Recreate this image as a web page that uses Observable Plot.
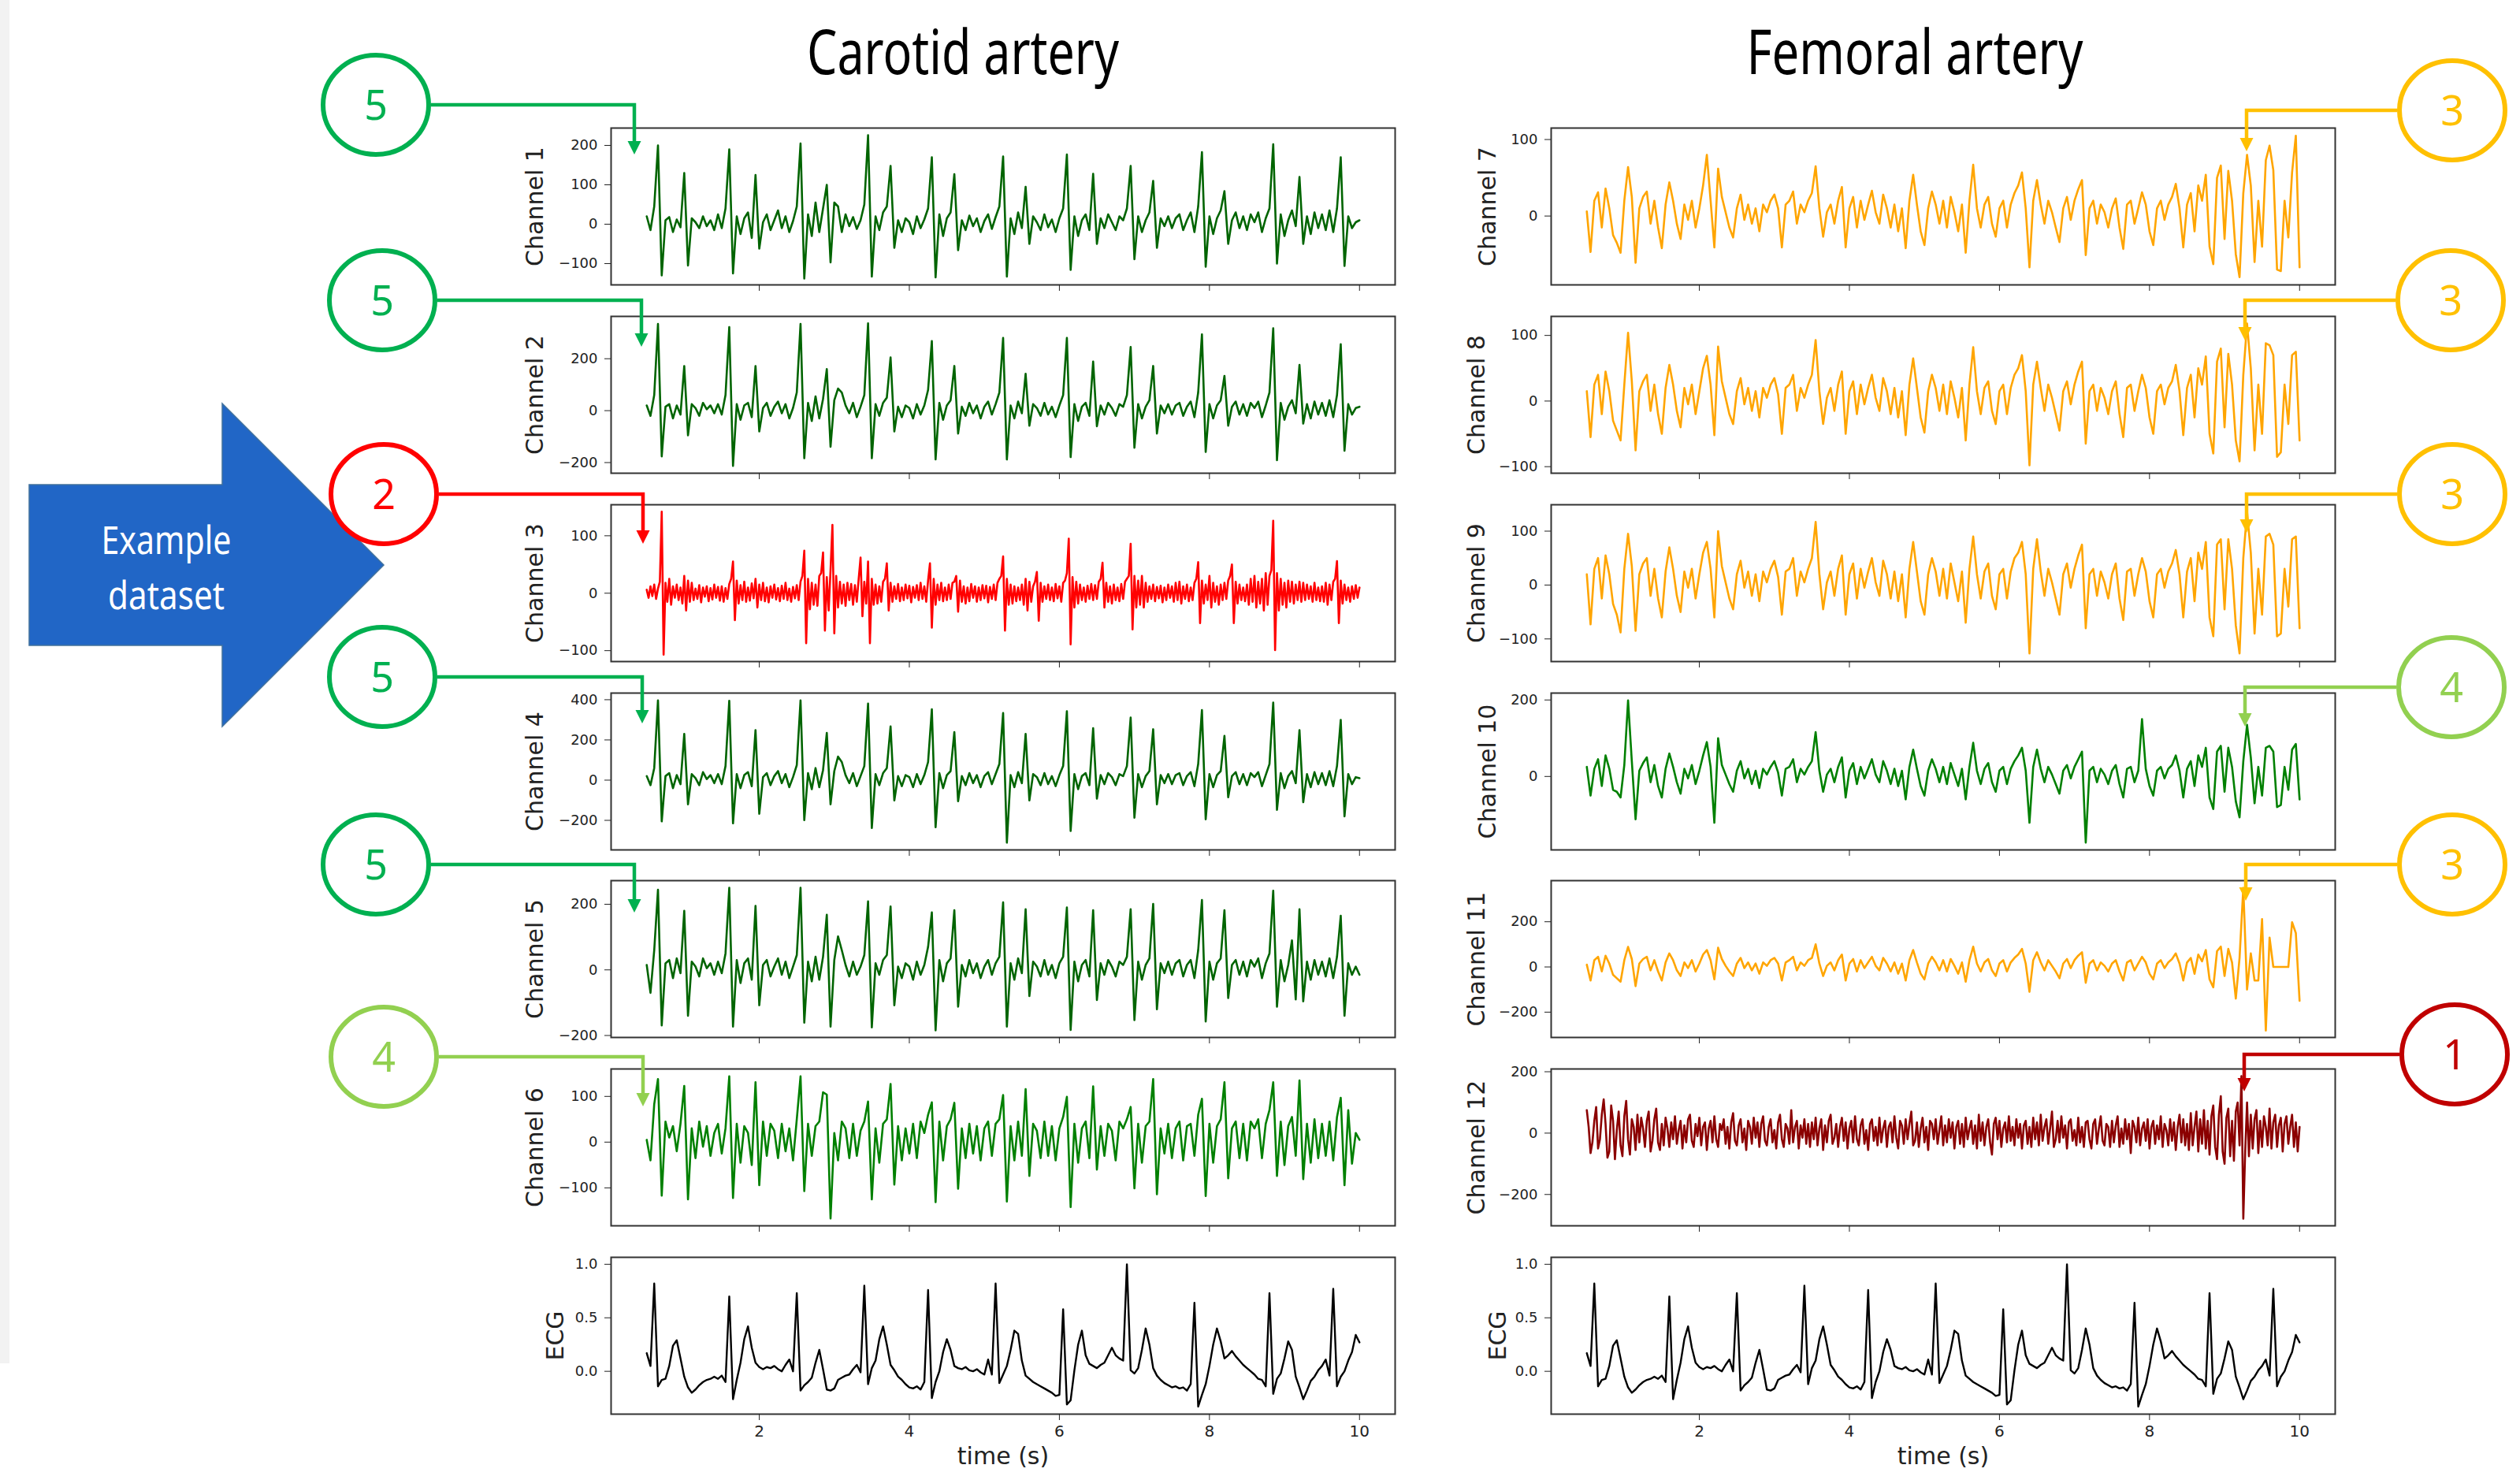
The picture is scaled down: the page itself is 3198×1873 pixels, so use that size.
<!DOCTYPE html>
<html>
<head>
<meta charset="utf-8">
<script src="https://cdn.jsdelivr.net/npm/d3@7"></script>
<script src="https://cdn.jsdelivr.net/npm/@observablehq/plot@0.6"></script>
<style>
html,body{margin:0;padding:0;background:#fff;}
#root{position:relative;width:3198px;height:1873px;overflow:hidden;background:#fff;}
</style>
</head>
<body>
<div id="root"></div>
<script>
// ---------------- DATA (evenly sampled from 0.5 s to 10 s) ----------------
// 191-sample series: one line = one second (0.05 s step). 381-sample series: one line = one second (0.025 s step).
const T_START = 0.5, T_END = 10.0;
const X_TICKS = [2, 4, 6, 8, 10];

const ecg = [
  0.17, 0.05, 0.82, -0.14, -0.08, -0.07, 0.05, 0.24, 0.29, 0.12, -0.05, -0.15, -0.20, -0.17, -0.13, -0.10, -0.08, -0.07, -0.05, -0.07,
  -0.04, -0.10, 0.70, -0.26, -0.08, 0.08, 0.30, 0.42, 0.22, 0.08, 0.04, 0.02, 0.04, 0.03, 0.05, 0.02, 0.00, 0.06, 0.11, 0.00,
  0.73, -0.18, -0.13, -0.10, -0.06, 0.08, 0.20, 0.02, -0.17, -0.18, -0.16, -0.08, -0.06, -0.04, -0.03, 0.02, 0.06, -0.01, 0.80, -0.12,
  0.03, 0.10, 0.30, 0.42, 0.25, 0.06, 0.01, -0.05, -0.08, -0.12, -0.15, -0.16, -0.14, -0.17, -0.10, 0.76, -0.25, -0.10, 0.00, 0.18,
  0.30, 0.20, 0.05, 0.03, 0.02, 0.04, 0.01, 0.00, 0.02, -0.01, -0.03, 0.11, -0.03, 0.82, -0.11, -0.03, 0.05, 0.20, 0.38, 0.35,
  0.10, -0.04, -0.07, -0.10, -0.12, -0.14, -0.16, -0.18, -0.20, -0.23, -0.22, 0.58, -0.31, -0.27, 0.01, 0.25, 0.38, 0.15, 0.07, 0.05,
  0.03, 0.06, 0.08, 0.15, 0.22, 0.15, 0.12, 0.10, 1.00, 0.01, -0.02, 0.03, 0.20, 0.40, 0.25, 0.03, -0.04, -0.08, -0.11, -0.13,
  -0.15, -0.14, -0.16, -0.15, -0.18, -0.12, 0.64, -0.33, -0.22, -0.12, 0.05, 0.25, 0.40, 0.28, 0.12, 0.15, 0.19, 0.14, 0.10, 0.06,
  0.03, 0.00, -0.03, -0.07, -0.08, -0.14, 0.73, -0.21, -0.07, -0.02, 0.12, 0.28, 0.20, -0.05, -0.15, -0.26, -0.18, -0.09, -0.05, 0.01,
  0.05, 0.11, -0.04, 0.77, -0.14, -0.05, 0.00, 0.10, 0.18, 0.34, 0.27
];

const ch1 = [
  20, -15, 45, 200, -130, 10, 18, -20, 12, -8, 130, -105, 15, 5, -10, 20, -5, 10, -15, 25,
  -10, 40, 190, -125, 20, -25, 15, 30, -35, 125, -62, 5, 25, -15, 10, 35, -10, 20, -20, 8,
  45, 205, -138, 25, -30, 55, -20, 40, 100, -97, 55, 45, -20, 25, -5, 18, -12, 10, 50, 226,
  -133, 20, -15, 30, 45, 148, -60, 10, -20, 15, 5, -25, 20, -10, 12, 40, 170, -135, 25, -30,
  15, 30, 127, -66, 10, -15, 22, -5, 15, -20, 8, 25, -12, 18, 45, 172, -133, 15, -25, 30,
  -10, 95, -50, 20, 5, -15, 25, -8, 12, -20, 15, 40, 177, -116, 20, -30, 10, 25, -15, 128,
  -50, 15, -10, 25, 5, -15, 20, 10, 40, 148, -89, 20, -20, 10, 30, 110, -60, 15, -5, 20,
  -10, 15, 25, -15, 10, 30, -20, 45, 183, -108, 20, -25, 15, 35, 84, -50, 10, 30, -10, 20,
  -15, 25, 5, 30, -20, 15, 40, 203, -100, 25, -30, 10, 35, -5, 120, -50, 20, -25, 30, -10,
  25, -15, 35, -20, 40, 170, -106, 20, -10, 5, 10
];

const ch2 = [
  20, -20, 60, 334, -176, 15, 25, -30, 20, -15, 172, -95, 25, 10, -20, 30, 5, 20, -10, 25,
  -15, 60, 322, -213, 25, -35, 20, 30, -25, 172, -80, 10, 30, -20, 15, 35, -10, 25, -30, 10,
  70, 334, -183, 30, -40, 55, -30, 45, 160, -139, 40, 85, 70, 20, -10, 30, -25, 15, 60, 336,
  -183, 25, -20, 30, 50, 205, -80, 15, -25, 20, 10, -30, 25, -15, 20, 80, 268, -188, 30, -35,
  20, 40, 172, -88, 15, -20, 30, -10, 20, -30, 15, 35, -15, 25, 70, 280, -188, 20, -30, 35,
  -10, 142, -58, 25, 10, -20, 30, -15, 15, -25, 20, 60, 280, -179, 25, -40, 15, 30, -20, 189,
  -60, 20, -15, 30, 10, -20, 25, 15, 60, 245, -143, 25, -30, 15, 40, 172, -88, 20, -10, 25,
  -15, 20, 30, -20, 15, 35, -25, 70, 294, -159, 25, -30, 20, 40, 134, -58, 15, 35, -15, 25,
  -20, 30, 10, 35, -25, 20, 70, 317, -191, 30, -35, 15, 40, -10, 176, -50, 25, -30, 35, -15,
  30, -20, 40, -25, 60, 256, -154, 25, -15, 10, 15
];

const ch3 = [
  6, -8, 12, -5, 15, -10, 8, 20, 142, -107, 18, -15, 25, -20, 12, -8, 15, -12, 10, -18, 30, -30, 22, -15, 18, -12, 8, -10, 14, -16, 10, -6, 12, -14, 9, -11, 15, -8, 11, -13,
  12, -15, 9, -10, 16, 25, 55, -47, 22, -18, 14, -12, 20, -15, 10, -13, 17, -9, 25, -25, 15, -12, 18, -14, 10, -16, 12, -8, 15, -11, 9, -14, 13, -10, 18, -12, 8, -15, 11, -9,
  14, -12, 20, 30, 74, -87, 25, -28, 18, -20, 15, -22, 30, 35, 71, -65, 28, -30, 40, 119, -70, 30, -25, 20, -18, 15, -22, 18, -12, 16, -20, 14, -15, 25, 62, -40, 20, -18, 55, -87,
  25, -20, 15, -18, 12, -15, 20, 25, 52, -30, 18, -15, 12, -10, 16, -14, 10, -12, 15, -9, 13, -16, 11, -8, 14, -12, 18, -10, 12, -15, 22, 52, -60, 25, -20, 15, -12, 18, -14, 10,
  -12, 15, -10, 18, 20, 30, -32, 22, -15, 12, -18, 10, -14, 16, -8, 12, -15, 10, -12, 14, -9, 13, -16, 11, -10, 15, -12, 18, 25, 30, 64, -65, 25, -20, 15, -18, 12, -14, 10, -12,
  15, -20, 25, -30, 20, -15, 12, 20, 37, -48, 18, -15, 12, -10, 15, -12, 10, -14, 16, -9, 12, -15, 18, 22, 35, 95, -89, 28, -25, 20, -18, 15, -12, 10, -15, 13, -10, 16, -12, 14,
  -10, 20, 25, 53, -25, 18, -15, 12, -18, 15, -12, 10, -14, 16, -10, 20, 25, 30, 86, -63, 30, -25, 22, -20, 30, -25, 18, -15, 12, -10, 15, -14, 11, -9, 13, -16, 10, -12, 15, -8,
  12, -15, 18, -12, 20, -18, 12, -10, 15, -14, 10, -12, 18, 25, 54, -52, 22, -18, 15, -12, 30, -25, 18, -15, 12, -20, 15, -12, 18, -10, 22, 30, 50, -52, 20, -18, 15, -12, 10, -14,
  15, -20, 25, -15, 30, -25, 20, -18, 25, -30, 35, -20, 30, 40, 126, -99, 35, -30, 25, -20, 18, -25, 22, -15, 20, -18, 15, -12, 20, -15, 18, -12, 15, -10, 12, -15, 18, -12, 10, -14,
  12, -15, 18, -20, 15, -12, 20, 25, 56, -52, 22, -18, 15, -12, 10, -15, 12, -10, 14, -8, 10
];

const ch4 = [
  20, -25, 60, 397, -205, 20, 35, -40, 25, -20, 230, -120, 30, 10, -25, 40, 5, 25, -15, 30,
  -20, 70, 395, -215, 30, -40, 25, 40, -30, 249, -167, 15, 35, -25, 20, 45, -15, 30, -35, 15,
  75, 397, -199, 35, -45, 60, -35, 50, 235, -120, 45, 117, 90, 25, -15, 35, -30, 20, 70, 381,
  -238, 30, -25, 35, 60, 267, -101, 20, -30, 25, 15, -35, 30, -20, 25, 90, 352, -234, 35, -40,
  25, 45, 239, -105, 20, -25, 35, -15, 25, -35, 20, 40, -20, 30, 80, 334, -311, 25, -35, 40,
  -15, 230, -101, 30, 15, -25, 35, -20, 20, -30, 25, 70, 343, -253, 30, -45, 20, 35, -25, 258,
  -92, 25, -20, 35, 15, -25, 30, 20, 70, 311, -187, 30, -35, 20, 45, 253, -120, 25, -15, 30,
  -20, 25, 35, -25, 20, 40, -30, 80, 349, -195, 30, -35, 25, 45, 220, -85, 20, 40, -20, 30,
  -25, 35, 15, 40, -30, 25, 80, 386, -148, 35, -40, 20, 45, -15, 249, -110, 30, -35, 40, -20,
  35, -25, 45, -30, 70, 300, -180, 30, -20, 15, 10
];

const ch5 = [
  15, -70, 60, 244, -169, 20, 30, -25, 35, -10, 180, -140, 25, 10, -20, 35, 5, 20, -15, 25,
  -10, 50, 250, -173, 30, -40, 20, 35, -30, 195, -108, 15, 30, -20, 10, 35, -15, 25, -25, 10,
  45, 250, -161, 25, -35, 40, -30, 40, 168, -173, 30, 102, 60, 15, -20, 25, -15, 10, 45, 209,
  -175, 20, -15, 30, 45, 193, -108, 10, -25, 20, 10, -30, 25, -15, 15, 70, 175, -184, 30, -35,
  20, 35, 182, -112, 15, -20, 30, -10, 20, -25, 10, 30, -15, 20, 40, 206, -173, 20, -30, 35,
  -10, 185, -80, 25, 10, -20, 30, -15, 15, -25, 20, 40, 190, -183, 25, -35, 15, 30, -20, 182,
  -92, 20, -15, 30, 10, -20, 25, 15, 40, 185, -153, 25, -30, 15, 35, 201, -120, 20, -10, 25,
  -15, 20, 30, -20, 15, 30, -25, 60, 213, -157, 25, -30, 20, 35, 182, -86, 15, 30, -15, 25,
  -20, 30, 10, 35, -25, 20, 50, 241, -112, 30, -35, 15, 90, -90, 185, -96, 25, -30, 30, -15,
  25, -20, 35, -25, 40, 165, -140, 20, -15, 10, -15
];

const ch6 = [
  5, -40, 83, 138, -117, 45, 10, 35, -20, 40, 123, -125, 30, -35, 45, -10, 35, -30, 20, 40,
  -25, 30, 144, -122, 40, -45, 35, 20, -50, 131, -94, 45, -30, 40, 25, -35, 40, -20, 30, -40,
  50, 144, -107, 40, -30, 35, 45, 109, 104, -167, 20, -40, 45, 30, -35, 40, -30, 25, 45, 89,
  -125, 30, -45, 40, 50, 127, -93, 35, -40, 30, -25, 40, -35, 45, 20, 60, 87, -131, 45, -40,
  35, 50, 86, -102, 30, -35, 40, -25, 35, -40, 30, 45, -30, 40, 50, 103, -130, 35, -40, 45,
  -30, 116, -74, 40, 25, -35, 45, -30, 35, -40, 30, 55, 99, -142, 40, -45, 30, 45, -35, 122,
  -60, 35, -30, 40, 25, -40, 45, 30, 50, 77, -101, 40, -45, 35, 45, 138, -114, 30, -25, 40,
  -35, 30, 45, -40, 35, 40, -30, 60, 95, -118, 40, -45, 35, 50, 131, -79, 30, 45, -35, 40,
  -40, 45, 30, 50, -35, 40, 70, 131, -74, 45, -50, 35, 55, -30, 135, -81, 40, -45, 50, -35,
  40, -30, 45, -40, 55, 97, -94, 70, -47, 20, 5
];

const ch7 = [
  6, -47, 20, 31, -15, 36, 10, -25, -35, -48, 20, 64, 25, -61, 10, 25, 32, -10, 20, -15,
  -42, 15, 44, 20, -10, -30, 15, -5, 20, -15, 10, 40, 80, 20, -41, 62, 25, 5, -15, -28,
  10, 28, -5, 15, -10, 10, -20, 15, 5, 20, 28, 10, -41, 15, 20, 32, -10, 15, 5, 20,
  30, 65, 10, -27, 5, 15, -10, 20, 38, -41, 10, 25, -15, 20, -5, 15, 33, 5, -10, 28,
  10, -15, 15, -20, 10, -42, 20, 54, 15, -20, -38, 10, 32, 15, -10, 20, -15, 25, 5, -20,
  15, -48, 20, 67, 10, -15, 15, 25, -10, -27, 10, 20, -15, 15, 30, 40, 57, 10, -67, 20,
  47, 15, -10, 20, 5, -15, -34, 10, 25, -5, 20, 35, 47, -51, 10, 20, -10, 15, 5, -15,
  10, 23, -15, -43, 15, 20, -10, 10, 31, 15, -20, -38, 10, 20, -5, 15, 25, 42, 10, -41,
  15, 30, -20, 40, 20, 54, -40, -63, 50, 66, -30, 59, 20, -50, -80, 30, 80, 40, -60, 20,
  -40, 73, 92, 60, -70, -72, 20, -28, 57, 105, -67
];

const ch8 = [
  15, -55, 25, 40, -20, 45, 15, -30, -45, -60, 25, 104, 30, -75, 15, 30, 40, -15, 25, -20,
  -50, 20, 55, 25, -15, -40, 20, -5, 25, -20, 15, 50, 69, 25, -52, 83, 30, 5, -20, -35,
  15, 35, -5, 20, -15, 15, -25, 20, 5, 25, 35, 10, -50, 20, 25, 40, -15, 20, 5, 25,
  40, 93, 15, -35, 5, 20, -15, 25, 45, -50, 15, 30, -20, 25, -5, 20, 40, 5, -15, 35,
  15, -20, 20, -25, 15, -52, 25, 65, 20, -25, -48, 15, 40, 20, -15, 25, -20, 30, 5, -25,
  20, -60, 25, 82, 15, -20, 20, 30, -15, -35, 15, 25, -20, 20, 40, 50, 70, 15, -98, 25,
  60, 20, -15, 25, 5, -20, -45, 15, 30, -5, 25, 45, 60, -65, 15, 25, -15, 20, 5, -20,
  15, 30, -20, -55, 20, 25, -15, 15, 40, 20, -25, -50, 15, 25, -5, 20, 30, 55, 15, -52,
  20, 40, -25, 50, 25, 68, -50, -80, 60, 80, -40, 72, 25, -60, -92, 40, 118, 50, -75, 25,
  -50, 88, 85, 70, -85, -78, 25, -35, 70, 75, -60
];

const ch9 = [
  20, -73, 30, 50, -25, 55, 20, -35, -55, -88, 30, 95, 35, -85, 20, 40, 50, -20, 30, -25,
  -60, 25, 70, 30, -20, -50, 25, -5, 30, -25, 20, 60, 80, 30, -60, 100, 35, 5, -25, -45,
  20, 45, -5, 25, -20, 20, -30, 25, 5, 30, 45, 15, -55, 25, 30, 50, -20, 25, 5, 30,
  50, 117, 20, -45, 5, 25, -20, 30, 55, -55, 20, 40, -25, 30, -5, 25, 50, 5, -20, 45,
  20, -25, 25, -30, 20, -60, 30, 80, 25, -30, -55, 20, 50, 25, -20, 30, -25, 40, 5, -30,
  25, -70, 30, 90, 20, -25, 25, 40, -20, -45, 20, 30, -25, 25, 50, 60, 80, 20, -127, 30,
  85, 25, -20, 30, 5, -25, -55, 20, 40, -5, 30, 55, 75, -80, 20, 30, -20, 25, 5, -25,
  20, 40, -25, -65, 25, 30, -20, 20, 50, 25, -30, -60, 20, 30, -5, 25, 40, 65, 20, -60,
  25, 50, -30, 60, 30, 80, -60, -95, 75, 85, -45, 85, 30, -75, -127, 50, 136, 60, -90, 30,
  -55, 90, 95, 75, -95, -90, 30, -40, 85, 90, -80
];

const ch10 = [
  25, -50, 20, 45, -25, 55, 20, -35, -40, -55, 30, 199, 40, -112, 15, 35, 50, -15, 30, -25,
  -55, 20, 60, 25, -15, -45, 20, -5, 30, -20, 15, 55, 90, 25, -121, 100, 30, 5, -20, -40,
  15, 40, -5, 20, -20, 15, -30, 20, 5, 25, 40, 10, -50, 20, 25, 45, -15, 20, 5, 25,
  40, 116, 15, -40, 5, 20, -15, 25, 50, -55, 15, 35, -20, 25, -5, 20, 45, 5, -15, 40,
  15, -20, 20, -25, 15, -60, 25, 70, 20, -25, -50, 15, 45, 20, -15, 25, -20, 35, 5, -25,
  20, -60, 25, 88, 15, -20, 20, 35, -15, -40, 15, 25, -20, 20, 40, 55, 75, 15, -121, 25,
  70, 20, -15, 25, 5, -20, -45, 15, 30, -5, 25, 45, 65, -173, 15, 25, -15, 20, 5, -20,
  15, 30, -20, -55, 20, 25, -15, 15, 150, 20, -25, -50, 15, 25, -5, 20, 30, 55, 15, -55,
  20, 40, -25, 55, 25, 75, -55, -85, 65, 80, -40, 75, 25, -65, -107, 40, 135, 50, -70, 25,
  -50, 75, 80, 65, -80, -75, 25, -35, 70, 85, -60
];

const ch11 = [
  10, -60, 30, 45, -20, 50, 15, -35, -50, -65, 30, 89, 35, -85, 15, 35, 45, -15, 30, -20,
  -60, 20, 60, 30, -15, -40, 20, -5, 30, -20, 15, 55, 75, 30, -55, 85, 35, 5, -20, -40,
  15, 40, -5, 20, -15, 15, -30, 20, 5, 30, 40, 15, -60, 20, 30, 45, -15, 20, 5, 30,
  40, 100, 15, -40, 5, 20, -15, 30, 55, -60, 15, 35, -20, 30, -5, 20, 45, 5, -15, 40,
  15, -20, 20, -30, 15, -60, 30, 75, 20, -30, -55, 15, 45, 20, -15, 30, -20, 35, 5, -30,
  20, -65, 30, 90, 15, -20, 20, 35, -15, -40, 15, 30, -20, 20, 40, 55, 80, 15, -110, 30,
  65, 20, -15, 30, 5, -20, -50, 15, 35, -5, 30, 50, 65, -70, 15, 30, -15, 20, 5, -20,
  15, 30, -20, -60, 20, 30, -15, 15, 45, 20, -30, -55, 15, 30, -5, 20, 35, 60, 15, -60,
  20, 40, -30, 55, 25, 75, -55, -90, 70, 90, -40, 80, 20, -140, 40, 350, -100, 60, -60, -60,
  212, -281, 130, 0, 0, 0, 0, 0, 198, 150, -150
];

const ch12 = [
  75, 20, -65, -30, 40, 85, -50, -20, 60, 110, 30, -80, -60, 90, 40, -85, 10, 70, -40, -75, 55, 105, -20, -70, 45, 20, -55, 60, -30, 50, 15, -45, 40, 70, -60, -25, 45, 80, -30, -55,
  30, -40, 50, 15, -45, 35, -20, 55, -35, 10, 40, -50, 25, -30, 45, 60, -25, -45, 30, -10, 50, -40, 20, 35, -55, 15, 40, -30, 55, -20, -45, 30, 10, 45, -35, 20, -50, 35, 65, -25,
  -40, 25, 45, -30, 15, -55, 40, 20, -35, 50, -15, 35, -45, 30, 55, -25, -40, 20, 45, -30, 10, -50, 35, 60, -20, -45, 30, 15, -35, 75, -30, 20, 40, -50, 25, -15, 45, -35, 30, -45,
  35, -20, 50, -40, 15, 45, -55, 25, -30, 40, 60, -35, -15, 30, -45, 20, 50, -25, 35, -50, 15, 40, -30, 55, -20, -40, 25, 45, -35, 10, -55, 30, 45, -25, 20, -40, 50, -30, 15, 40,
  -45, 20, 35, -30, 55, -15, -50, 40, 25, -35, 45, -20, 30, 70, -40, -25, 35, -45, 15, 50, -30, 20, -55, 40, 30, -20, 45, -35, 10, 55, -40, 25, -30, 45, -15, 35, -50, 20, 40, -35,
  30, -45, 50, -20, 15, 40, -35, 25, -50, 60, -25, 35, -40, 20, 45, -30, -70, 30, 50, -20, 40, -45, 15, 35, -30, 55, -25, 20, -40, 45, -15, 30, -50, 25, 40, -35, 20, -45, 50, -20,
  35, -40, 60, -25, 20, 45, -35, 15, 70, -45, -20, 40, -30, 55, -15, 25, -50, 35, 45, -25, 10, -40, 50, -30, 20, -45, 35, 40, -20, -50, 30, 45, -35, 15, 55, -25, -40, 30, 20, -45,
  40, -30, 25, 55, -45, 15, -35, 45, -20, 30, -65, 40, 20, -30, 50, -40, 15, 35, -25, 45, -50, 20, 40, -35, 25, -20, 55, -45, 30, 10, -40, 45, -25, 35, -55, 20, 60, -30, 45, -40,
  30, -55, 65, -40, 20, 70, -60, 45, -35, 75, -50, 40, -70, 55, 90, -45, -85, 60, 120, -60, -100, 50, 80, -75, 40, -90, 70, 100, -40, 186, -279, -60, 100, -75, 60, -50, 45, 75, -65, 40,
  -45, 55, 20, -40, 80, -50, 35, 60, -45, 25, 50, -60, 30, 55, -35, 20, 60, -45, 35, -60, 20
];

// panel definitions: label, series, colour, y domain, y ticks
const leftNames  = ["Channel 1", "Channel 2", "Channel 3", "Channel 4", "Channel 5", "Channel 6", "ECG"];
const rightNames = ["Channel 7", "Channel 8", "Channel 9", "Channel 10", "Channel 11", "Channel 12", "ECG"];
const leftSeries  = [ch1, ch2, ch3, ch4, ch5, ch6, ecg];
const rightSeries = [ch7, ch8, ch9, ch10, ch11, ch12, ecg];
const leftColors  = ["#006400", "#006400", "#ff0000", "#006400", "#006400", "#008000", "#000000"];
const rightColors = ["#ffa500", "#ffa500", "#ffa500", "#008000", "#ffa500", "#8b0000", "#000000"];
const leftDomains  = [[-154, 244], [-241, 363], [-119, 154], [-347, 433], [-206, 272], [-183, 160], [-0.40, 1.065]];
const rightDomains = [[-90, 115], [-110, 129], [-142, 149], [-192, 218], [-312, 382], [-302, 209], [-0.40, 1.065]];
const leftTicks  = [[-100, 0, 100, 200], [-200, 0, 200], [-100, 0, 100], [-200, 0, 200, 400], [-200, 0, 200], [-100, 0, 100], [0, 0.5, 1.0]];
const rightTicks = [[0, 100], [-100, 0, 100], [-100, 0, 100], [0, 200], [-200, 0, 200], [-200, 0, 200], [0, 0.5, 1.0]];

// callouts (quality scores)
const calloutLabels = ["5", "5", "2", "5", "5", "4", "3", "3", "3", "4", "3", "1"];
const calloutColors = ["#00b050", "#00b050", "#ff0000", "#00b050", "#00b050", "#92d050",
                       "#ffc000", "#ffc000", "#ffc000", "#92d050", "#ffc000", "#c00000"];

// ---------------- LAYOUT ----------------
const root = document.getElementById("root");
const ROW_TOPS = [162, 401, 640, 879, 1117, 1356, 1595];
const PANEL_H = 199;
const COLS = [{x: 775, w: 995}, {x: 1968, w: 995}];
const X_DOMAIN = [0.025, 10.475];
const leftLabelOff  = [96, 96, 96, 96, 96, 96, 70];
const rightLabelOff = [80, 94, 94, 80, 94, 94, 67];

const minus = d => (d < 0 ? "\u2212" + Math.abs(d) : String(d));

function panel(col, row, name, values, color, domain, ticks, labelOff) {
  const isEcg = name === "ECG";
  const n = values.length;
  const data = values.map((v, i) => ({t: T_START + (T_END - T_START) * i / (n - 1), v}));
  const mL = 150, mR = 6, mT = 6, mB = 90;
  const c = COLS[col];
  const marks = [
    Plot.line(data, {x: "t", y: "v", stroke: color, strokeWidth: isEcg ? 2.4 : 2.6}),
    Plot.frame({stroke: "#333", strokeWidth: 2}),
    Plot.axisY({ticks, tickSize: 8, tickPadding: 9, fontSize: 18, label: null,
                tickFormat: isEcg ? d => d.toFixed(1) : minus}),
    Plot.axisX({ticks: X_TICKS, tickSize: 8, tickPadding: 6, fontSize: 20, label: null,
                tickFormat: isEcg ? d => String(d) : () => ""}),
    Plot.text([name], {frameAnchor: "left", dx: -labelOff, rotate: -90, fontSize: 30,
                       textAnchor: "middle", lineAnchor: "middle", text: d => d, fill: "#222"})
  ];
  if (isEcg) {
    marks.push(Plot.text(["time (s)"], {frameAnchor: "bottom", dy: 54, fontSize: 30,
                                         textAnchor: "middle", lineAnchor: "middle", text: d => d, fill: "#222"}));
  }
  const chart = Plot.plot({
    width: c.w + mL + mR,
    height: PANEL_H + mT + mB,
    marginLeft: mL, marginRight: mR, marginTop: mT, marginBottom: mB,
    style: {fontFamily: "DejaVu Sans", fontSize: "18px", color: "#222", background: "none", overflow: "visible"},
    x: {domain: X_DOMAIN, label: null},
    y: {domain, label: null},
    marks
  });
  chart.style.position = "absolute";
  chart.style.left = (c.x - mL) + "px";
  chart.style.top = (ROW_TOPS[row] - mT) + "px";
  root.appendChild(chart);
}

for (let r = 0; r < 7; r++) {
  panel(0, r, leftNames[r], leftSeries[r], leftColors[r], leftDomains[r], leftTicks[r], leftLabelOff[r]);
  panel(1, r, rightNames[r], rightSeries[r], rightColors[r], rightDomains[r], rightTicks[r], rightLabelOff[r]);
}

// ---------------- OVERLAY: titles, arrow, callouts ----------------
const svg = d3.select(root).append("svg")
  .attr("width", 3198).attr("height", 1873)
  .style("position", "absolute").style("left", "0px").style("top", "0px")
  .style("pointer-events", "none");

const DECO_FONT = "'Noto Sans', 'Open Sans', sans-serif";

svg.append("rect").attr("x", 0).attr("y", 0).attr("width", 12).attr("height", 1730).attr("fill", "#f2f2f2");

svg.append("text").attr("x", 1222).attr("y", 94).attr("text-anchor", "middle")
  .attr("font-family", DECO_FONT).attr("font-size", 78).attr("fill", "#000")
  .attr("textLength", 396).attr("lengthAdjust", "spacingAndGlyphs").text("Carotid artery");
svg.append("text").attr("x", 2430).attr("y", 94).attr("text-anchor", "middle")
  .attr("font-family", DECO_FONT).attr("font-size", 78).attr("fill", "#000")
  .attr("textLength", 427).attr("lengthAdjust", "spacingAndGlyphs").text("Femoral artery");

// blue block arrow
svg.append("polygon")
  .attr("points", "37,615 282,615 282,512 487,717 282,922 282,819 37,819")
  .attr("fill", "#2166c6").attr("stroke", "#41719c").attr("stroke-width", 1.5);
svg.append("text").attr("x", 211).attr("y", 703).attr("text-anchor", "middle")
  .attr("font-family", DECO_FONT).attr("font-size", 50).attr("fill", "#fff")
  .attr("textLength", 165).attr("lengthAdjust", "spacingAndGlyphs").text("Example");
svg.append("text").attr("x", 211).attr("y", 773).attr("text-anchor", "middle")
  .attr("font-family", DECO_FONT).attr("font-size", 50).attr("fill", "#fff")
  .attr("textLength", 148).attr("lengthAdjust", "spacingAndGlyphs").text("dataset");

// callout geometry: [cx, cy, side, vertical x, arrow tip y]
const calloutGeom = [
  [477, 133, "L", 805, 196], [485, 381, "L", 814, 440], [487, 627, "L", 816, 690],
  [485, 859, "L", 815, 918], [477, 1097, "L", 805, 1158], [487, 1341, "L", 816, 1404],
  [3112, 140, "R", 2851, 192], [3110, 381, "R", 2849, 432], [3112, 627, "R", 2851, 676],
  [3111, 872, "R", 2849, 922], [3112, 1097, "R", 2850, 1143], [3115, 1338, "R", 2848, 1385]
];
calloutGeom.forEach(([cx, cy, side, xv, tip], i) => {
  const col = calloutColors[i];
  const x0 = side === "L" ? cx + 70 : cx - 70;
  svg.append("path")
    .attr("d", `M${x0},${cy} H${xv} V${tip - 14}`)
    .attr("fill", "none").attr("stroke", col).attr("stroke-width", 4.5).attr("stroke-linejoin", "miter");
  svg.append("polygon")
    .attr("points", `${xv - 8.5},${tip - 17} ${xv + 8.5},${tip - 17} ${xv},${tip}`)
    .attr("fill", col);
  svg.append("ellipse").attr("cx", cx).attr("cy", cy).attr("rx", 67).attr("ry", 63)
    .attr("fill", "none").attr("stroke", col).attr("stroke-width", 6);
  svg.append("text").attr("x", cx).attr("y", cy + 19).attr("text-anchor", "middle")
    .attr("font-family", DECO_FONT).attr("font-size", 52).attr("fill", col)
    .text(calloutLabels[i]);
});
</script>
</body>
</html>
